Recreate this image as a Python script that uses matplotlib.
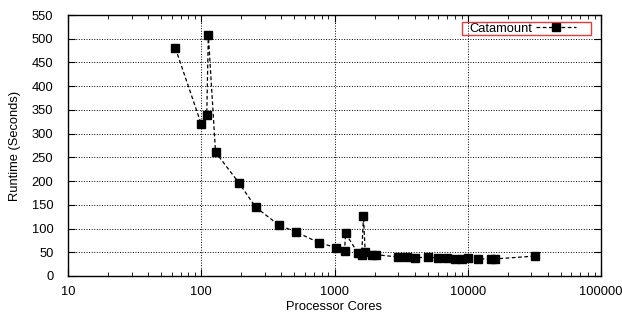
import matplotlib
matplotlib.use("Agg")
import matplotlib.pyplot as plt
from matplotlib.patches import Rectangle
from matplotlib.ticker import LogLocator, NullFormatter

plt.rcParams['font.family'] = ['Liberation Sans', 'DejaVu Sans']

# Catamount scaling data
cores = [64, 100, 110, 113, 128, 192, 256, 384, 512, 768, 1024, 1190, 1210,
         1500, 1600, 1650, 1700, 1900, 2048, 3000, 3500, 4000, 5000, 6000,
         7000, 8000, 9000, 10000, 12000, 15000, 16000, 32000]
runtime = [480, 320, 340, 508, 261, 196, 145, 107, 93, 70, 60, 52, 90,
           48, 44, 126, 50, 45, 45, 40, 40, 38, 40, 38,
           38, 36, 36, 38, 36, 36, 36, 42]
yticks = list(range(0, 551, 50))
xticks = [10, 100, 1000, 10000, 100000]
xticklabels = ['10', '100', '1000', '10000', '100000']

W, H = 622, 320
fig = plt.figure(figsize=(W / 100, H / 100), dpi=100)
ax = fig.add_axes([68 / W, 1 - 276 / H, (601 - 68) / W, (276 - 15) / H])

ax.plot(cores, runtime, color='black', linestyle='--', linewidth=0.9,
        dashes=(3, 2), marker='s', markersize=5.5, label='Catamount')

ax.set_xscale('log')
ax.set_xlim(10, 100000)
ax.set_ylim(0, 550)
ax.set_xticks(xticks)
ax.set_xticklabels(xticklabels)
ax.xaxis.set_minor_locator(LogLocator(base=10, subs=range(2, 10)))
ax.xaxis.set_minor_formatter(NullFormatter())
ax.set_yticks(yticks)

ax.grid(True, which='major', color='black', linestyle=':', linewidth=0.7)
ax.tick_params(which='both', direction='in', top=True, right=True,
               labelsize=9.3)
ax.tick_params(axis='x', pad=7)
ax.tick_params(axis='y', pad=10.5)
ax.tick_params(which='major', length=5)
ax.tick_params(which='minor', length=3)
for s in ax.spines.values():
    s.set_linewidth(1.0)

ax.set_xlabel('Processor Cores', fontsize=9.3, labelpad=2)
ax.set_ylabel('Runtime (Seconds)', fontsize=9.3, labelpad=8)

# legend: text then sample, inside a thin red box
leg = ax.legend(loc='center left', bbox_to_anchor=(469 / W, 1 - 28.5 / H),
                bbox_transform=fig.transFigure, markerfirst=False,
                fontsize=9.3, frameon=False, handlelength=3.1,
                borderpad=0, borderaxespad=0, handletextpad=0.35)
fig.patches.append(Rectangle((462 / W, 1 - 35 / H), (591 - 462) / W, 13 / H,
                             transform=fig.transFigure, fill=False,
                             edgecolor='#e03c3c', linewidth=1.0))

fig.savefig('out.png', dpi=100)
